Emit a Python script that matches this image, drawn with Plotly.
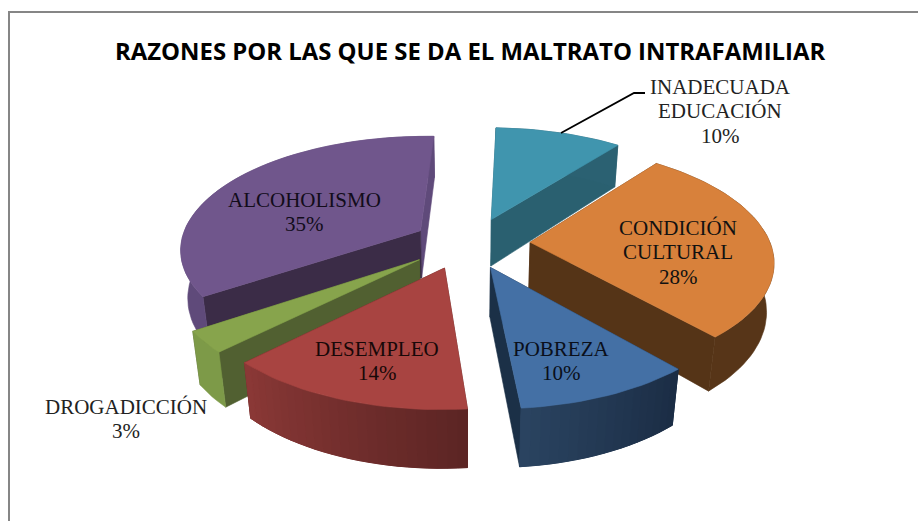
import math
import plotly.graph_objects as go

TITLE = "RAZONES POR LAS QUE SE DA EL MALTRATO INTRAFAMILIAR"
categories = ["INADECUADA<br>EDUCACIÓN", "CONDICIÓN<br>CULTURAL", "POBREZA",
              "DESEMPLEO", "DROGADICCIÓN", "ALCOHOLISMO"]
values = [10, 28, 10, 14, 3, 35]

top_colors = ["#4095AE", "#D8813B", "#4470A5", "#A84441", "#87A44C", "#70568C"]
cut_start_colors = ["#2A6070", "#553417", "#1B2E47", "#5C2523", "#516031", "#3B2C47"]
cut_end_colors = ["#2A6070", "#553417", "#1B3047", "#5C2523", "#516031", "#5F4A7A"]
outer_from = ["#2B6172", "#573518", "#1B2D45", "#5C2524", "#7D9A48", "#5F4A7A"]
outer_to = ["#2B6172", "#573518", "#2A4360", "#8A3836", "#7D9A48", "#5F4A7A"]
slice_shift = [1, 3, -4, -8, -9, -4]
label_pos = [(720, 111), (678, 252), (561, 361), (377, 361), (126, 419), (304, 212)]
label_color = ["#222222", "#111111", "#0A0F1A", "#170808", "#222222", "#120C1A"]
paint_order = [0, 5, 1, 4, 3, 2]
LINE_GAP = 24.5

# 3D projection settings
START, EXPLODE = 2.0, 0.23
CY, RX, RY, DEPTH, P, Q = 243, 240, 112, 48, 0.15, 0.025
CX0 = 472


def hex_mix(a, b, t):
    ca = [int(a[i:i + 2], 16) for i in (1, 3, 5)]
    cb = [int(b[i:i + 2], 16) for i in (1, 3, 5)]
    return "#" + "".join(f"{round(x + (y - x) * t):02X}" for x, y in zip(ca, cb))


fig = go.Figure()


def poly(pts, color, width=0.6):
    xs = [p[0] for p in pts] + [pts[0][0]]
    ys = [p[1] for p in pts] + [pts[0][1]]
    fig.add_trace(go.Scatter(x=xs, y=ys, mode="lines", fill="toself", fillcolor=color,
                             line=dict(color=color, width=width), hoverinfo="skip",
                             showlegend=False))


total = sum(values)
spans, a = [], START
for v in values:
    b = a + 360 * v / total
    spans.append((a, b))
    a = b

for i in paint_order:
    cx = CX0 + slice_shift[i]

    def project(X, Y, z=0.0):
        w = 1 - P * Y
        return cx + RX * X / (w + Q * z), CY + (RY * Y + DEPTH * z) / w

    a0, a1 = spans[i]
    mid = math.radians((a0 + a1) / 2)
    ox, oy = EXPLODE * math.sin(mid), -EXPLODE * math.cos(mid)
    n = max(6, int((a1 - a0) / 2))
    angs = [math.radians(a0 + (a1 - a0) * k / n) for k in range(n + 1)]
    rim = [(ox + math.sin(t), oy - math.cos(t)) for t in angs]

    # cut faces, farther one first
    cuts = sorted([(rim[0], cut_start_colors[i]), (rim[-1], cut_end_colors[i])],
                  key=lambda c: c[0][1])
    for r, col in cuts:
        poly([project(ox, oy), project(*r), project(*r, 1), project(ox, oy, 1)], col)

    # outer wall: one base shape, then shaded strips when the colour varies
    wall = [project(*r) for r in rim] + [project(*r, 1) for r in reversed(rim)]
    poly(wall, hex_mix(outer_from[i], outer_to[i], 0.5))
    if outer_from[i] != outer_to[i]:
        for k in range(n):
            c = hex_mix(outer_from[i], outer_to[i], k / max(1, n - 1))
            poly([project(*rim[k]), project(*rim[k + 1]), project(*rim[k + 1], 1), project(*rim[k], 1)], c, 1.0)

    # top face
    poly([project(ox, oy)] + [project(*r) for r in rim], top_colors[i])

annotations = []
for (x, y), c, v, col in zip(label_pos, categories, values, label_color):
    lines = c.split("<br>") + [f"{v}%"]
    for j, line in enumerate(lines):
        annotations.append(dict(x=x, y=y + (j - (len(lines) - 1) / 2) * LINE_GAP, xref="x", yref="y",
                                text=line, showarrow=False, xanchor="center", yanchor="middle",
                                font=dict(family="Liberation Serif", size=21, color=col)))
annotations.append(dict(x=470, y=50, xref="x", yref="y", text=f"<b>{TITLE}</b>", showarrow=False,
                        xanchor="center", yanchor="middle",
                        font=dict(family="Open Sans", size=23.9, color="#000000")))

# leader line and chart frame
fig.add_trace(go.Scatter(x=[561, 634, 645], y=[133, 93, 93], mode="lines",
                         line=dict(color="#000000", width=1.8), hoverinfo="skip", showlegend=False))
fig.add_trace(go.Scatter(x=[9, 9, 918], y=[521, 12, 12], mode="lines",
                         line=dict(color="#868686", width=2), hoverinfo="skip", showlegend=False))

fig.update_layout(
    width=918, height=521, margin=dict(l=0, r=0, t=0, b=0),
    paper_bgcolor="#FFFFFF", plot_bgcolor="#FFFFFF", showlegend=False,
    xaxis=dict(range=[0, 918], visible=False, fixedrange=True),
    yaxis=dict(range=[521, 0], visible=False, fixedrange=True),
    annotations=annotations,
)
fig.write_html("out.html", config={"displayModeBar": False},
               post_script="document.body.style.margin='0';document.body.style.overflow='hidden';")
